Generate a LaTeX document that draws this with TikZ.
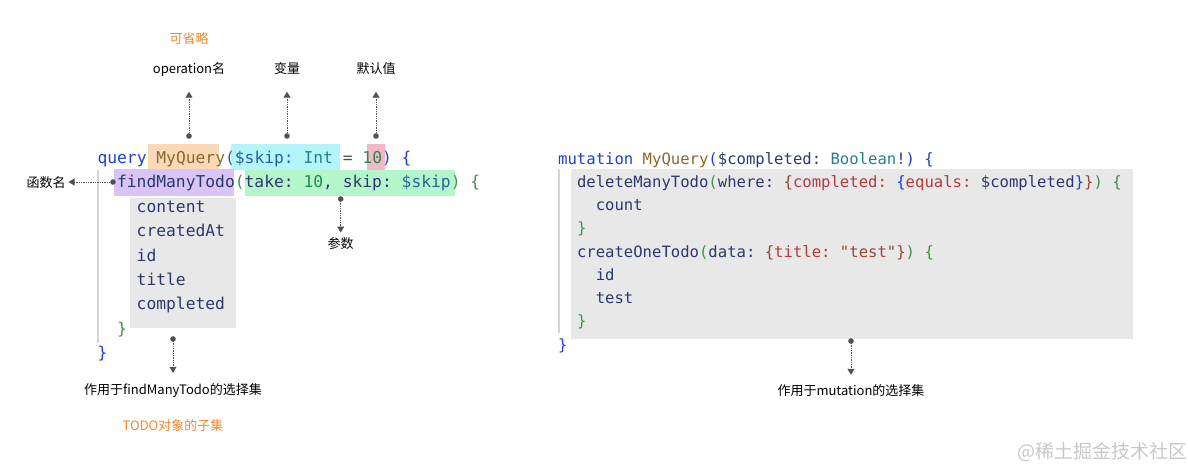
\documentclass[tikz,border=0pt]{standalone}
\usepackage{fontspec}
\setmonofont{DejaVu Sans Mono}
\newfontfamily\cjk{Noto Sans CJK SC}
\usetikzlibrary{arrows.meta}
\definecolor{kwblue}{RGB}{30,62,212}
\definecolor{tybrown}{RGB}{138,104,48}
\definecolor{varblue}{RGB}{40,98,158}
\definecolor{tyteal}{RGB}{38,128,140}
\definecolor{numgreen}{RGB}{32,140,82}
\definecolor{fnnavy}{RGB}{46,56,112}
\definecolor{brgreen}{RGB}{62,148,72}
\definecolor{argred}{RGB}{178,58,62}
\definecolor{objbrown}{RGB}{150,72,50}
\definecolor{hlorange}{RGB}{251,216,182}
\definecolor{hlcyan}{RGB}{180,245,250}
\definecolor{hlpink}{RGB}{245,182,200}
\definecolor{hlpurple}{RGB}{216,196,245}
\definecolor{hlgreen}{RGB}{180,245,202}
\definecolor{selgray}{RGB}{232,232,232}
\definecolor{guidegray}{RGB}{212,212,212}
\definecolor{notegray}{RGB}{80,80,80}
\definecolor{noteorange}{RGB}{242,135,45}
\definecolor{wmgray}{RGB}{200,200,200}
\newcommand{\ckw}[1]{\textcolor{kwblue}{#1}}
\newcommand{\cty}[1]{\textcolor{tybrown}{#1}}
\newcommand{\cvar}[1]{\textcolor{varblue}{#1}}
\newcommand{\ctl}[1]{\textcolor{tyteal}{#1}}
\newcommand{\cnum}[1]{\textcolor{numgreen}{#1}}
\newcommand{\cfn}[1]{\textcolor{fnnavy}{#1}}
\newcommand{\cbr}[1]{\textcolor{brgreen}{#1}}
\newcommand{\cre}[1]{\textcolor{argred}{#1}}
\newcommand{\cob}[1]{\textcolor{objbrown}{#1}}
\begin{document}
\frenchspacing
\begin{tikzpicture}[x=1pt,y=-1pt,>={Triangle[width=7pt,length=6pt]},
  code/.style={anchor=base west,inner sep=0pt,font=\ttfamily\fontsize{16.3}{18}\selectfont},
  rcode/.style={code,font=\ttfamily\fontsize{15.6}{18}\selectfont},
  note/.style={inner sep=0pt,text height=11pt,text depth=1pt,text=black,font=\cjk\fontsize{13}{15}\selectfont},
  callout/.style={->,densely dotted,notegray,line width=0.75pt}]
  \useasboundingbox (0,0) rectangle (1188,471);
  \fill[hlorange] (148.3,144) rectangle (219,170); \fill[hlcyan] (231,144) rectangle (340,170);
  \fill[hlpink] (367,144) rectangle (385,170);
  \fill[hlpurple] (114,169.3) rectangle (234,195.5); \fill[hlgreen] (245,170) rectangle (455,195.5);
  \fill[selgray] (130,198) rectangle (236,328); \fill[selgray] (571,169) rectangle (1133,338.5);
  \draw[guidegray,line width=1.6pt] (98,170)--(98,343); \draw[guidegray,line width=1.6pt] (559,169)--(559,333);
  \node[code] (qhead) at (97.3,163.5) {\ckw{query} \cty{MyQuery}\cvar{(\$skip:} \ctl{Int} \textcolor{notegray}{=} \cnum{10}\ckw{) \{}};
  \node[code] (qfind) at (116.9,187.9) {\cfn{findManyTodo}\cbr{(}\cfn{take:} \cnum{10}\cfn{,} \cfn{skip:} \cvar{\$skip}\cbr{) \{}};
  \foreach \f [count=\i] in {content,createdAt,id,title,completed}
    \node[code,fnnavy] (qf\i) at (136.5,187.9+24.4*\i) {\f};
  \node[code,brgreen] (qend1) at (116.9,334.3) {\}}; \node[code,kwblue] (qend2) at (97.3,358.7) {\}};
  \node[rcode] (mhead) at (558,164) {\ckw{mutation} \cty{MyQuery}\ckw{(}\cfn{\$completed:} \ctl{Boolean}\cfn{!}\ckw{) \{}};
  \node[rcode] (mdel) at (576.8,187.25) {\cfn{deleteManyTodo}\cbr{(}\cfn{where:} \cob{\{}\cre{completed:} \ckw{\{}\cre{equals:} \cfn{\$completed}\ckw{\}}\cob{\}}\cbr{) \{}};
  \node[rcode,fnnavy] (mcount) at (595.6,210.5) {count}; \node[rcode,brgreen] (mend1) at (576.8,233.75) {\}};
  \node[rcode] (mcreate) at (576.8,257) {\cfn{createOneTodo}\cbr{(}\cfn{data:} \cob{\{}\cre{title:} \cob{"test"}\cob{\}}\cbr{) \{}};
  \node[rcode,fnnavy] (mid) at (595.6,280.25) {id}; \node[rcode,fnnavy] (mtest) at (595.6,303.5) {test};
  \node[rcode,brgreen] (mend2) at (576.8,326.75) {\}}; \node[rcode,kwblue] (mend3) at (558,350) {\}};
  \coordinate (opdot) at (189,136); \coordinate (vardot) at (287,136); \coordinate (defdot) at (376,136);
  \coordinate (fndot) at (113,182); \coordinate (argdot) at (340.7,199);
  \coordinate (todot) at (173,339); \coordinate (mutdot) at (851,341);
  \node[note,noteorange] (optlbl) at (189,38) {可省略};
  \node[note] (oplbl) at (189,68) {operation名}; \node[note] (varlbl) at (287,68) {变量};
  \node[note] (deflbl) at (376,68) {默认值}; \node[note] (fnlbl) at (46,182) {函数名};
  \node[note] (arglbl) at (340.7,243) {参数};
  \node[note] (todolbl) at (173,389) {作用于findManyTodo的选择集};
  \node[note,noteorange] (sublbl) at (173,425) {TODO对象的子集};
  \node[note] (mutlbl) at (851,390) {作用于mutation的选择集};
  \foreach \d in {opdot,vardot,defdot,fndot,argdot,todot,mutdot} \fill[notegray] (\d) circle(2.8pt);
  \draw[callout,shorten >=17.5pt] (opdot)--(oplbl); \draw[callout,shorten >=17.5pt] (vardot)--(varlbl);
  \draw[callout,shorten >=17.5pt] (defdot)--(deflbl); \draw[callout,shorten >=2.8pt] (fndot)--(fnlbl);
  \draw[callout,shorten >=4.3pt] (argdot)--(arglbl); \draw[callout,shorten >=10pt] (todot)--(todolbl);
  \draw[callout,shorten >=9pt] (mutdot)--(mutlbl);
  \node[inner sep=0pt,text=wmgray,font=\cjk\fontsize{19}{21}\selectfont] (wm) at (1102,452) {@稀土掘金技术社区};
\end{tikzpicture}
\end{document}
